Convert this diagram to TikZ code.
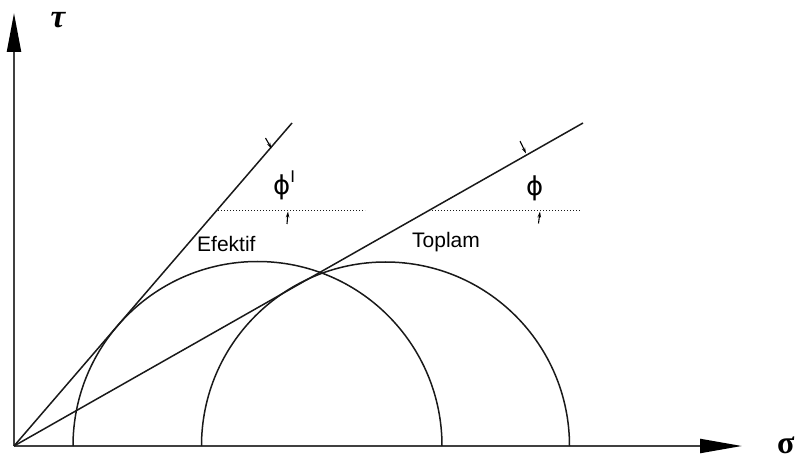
\documentclass[tikz,border=0pt]{standalone}
\usepackage{fontspec}
\setmainfont{Liberation Sans}
\newfontfamily\phifont{DejaVu Sans}
\newfontfamily\axisfont{Liberation Serif}
\usetikzlibrary{arrows.meta,calc}

\begin{document}
\begin{tikzpicture}[x=1pt,y=1pt,
  curve/.style={gray!20!black,line width=1.5pt},
  axis/.style={gray!50!black,line width=2.2pt},
  guide/.style={gray!20!black,line width=1pt,dash pattern=on 1.4pt off 1.6pt},
  dimarrow/.style={black,line width=1.1pt,-{Stealth[length=6pt,width=3.5pt]}},
  lbl/.style={font=\fontsize{21}{25}\selectfont,inner sep=0pt,anchor=base west},
  philbl/.style={font=\phifont\fontsize{26}{30}\selectfont,inner sep=0pt,anchor=base west}]
\useasboundingbox (0,0) rectangle (795,461);
% axes
\coordinate (O) at (14,15);
\coordinate (tautip) at (14,448);
\coordinate (sigtip) at (742,15);
\draw[axis,-{Triangle[length=39pt,width=14pt,color=black]}] (O) -- (tautip);
\draw[axis,-{Triangle[length=42pt,width=14pt,color=black]}] (O) -- (sigtip);
\node[font=\axisfont\bfseries\itshape\fontsize{33}{36}\selectfont,inner sep=0pt] (tau) at (58,441) {τ};
\node[font=\axisfont\bfseries\fontsize{32}{34}\selectfont,inner sep=0pt,anchor=west] (sigma) at (777,16) {σ};
% Mohr circles
\draw[curve] (73,15) arc[start angle=180,end angle=0,radius=184.5];
\draw[curve] (201.5,15) arc[start angle=180,end angle=0,radius=184];
% envelopes
\coordinate (effend) at (292,338);
\coordinate (totend) at (583,338);
\draw[curve] (O) -- (effend);
\draw[curve] (O) -- (totend);
% horizontal references
\coordinate (effa) at (218,250);
\coordinate (effb) at (365,250);
\coordinate (tota) at (432,250);
\coordinate (totb) at (580,250);
\draw[guide] (effa) -- (effb);
\draw[guide] (tota) -- (totb);
% angle marks
\draw[dimarrow] (265.5,323) -- (271.5,312.5);
\draw[dimarrow] (287,237) -- (288,249.5);
\draw[dimarrow] (520,320) -- (526,307.5);
\draw[dimarrow] (538.5,237.5) -- (540,249.5);
% labels
\node[philbl] (phieff) at (273,266.5) {ϕ\raisebox{11.5pt}{\fontspec{Liberation Sans}\fontsize{17}{17}\selectfont I}};
\node[philbl] (phitot) at (526,265) {ϕ};
\node[lbl] (efektif) at (197,209) {Efektif};
\node[lbl] (toplam) at (412,213) {Toplam};
\end{tikzpicture}
\end{document}
